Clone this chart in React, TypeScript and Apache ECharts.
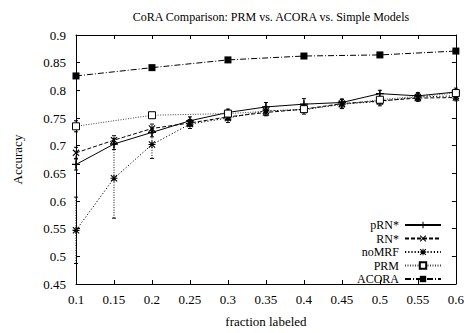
import React, { useEffect, useRef } from "react";
import * as echarts from "echarts";

const fracFine = [0.1, 0.15, 0.2, 0.25, 0.3, 0.35, 0.4, 0.45, 0.5, 0.55, 0.6];
const fracCoarse = [0.1, 0.2, 0.3, 0.4, 0.5, 0.6];

const pRN = [0.666, 0.703, 0.724, 0.745, 0.760, 0.770, 0.775, 0.778, 0.794, 0.790, 0.797];
const pRNErr = [0.010, 0.010, 0.008, 0.007, 0.006, 0.008, 0.010, 0.006, 0.006, 0.006, 0.007];
const RN = [0.687, 0.710, 0.731, 0.741, 0.752, 0.760, 0.766, 0.776, 0.781, 0.786, 0.787];
const RNErr = [0.010, 0.008, 0.008, 0.006, 0.006, 0.006, 0.006, 0.008, 0.006, 0.006, 0.006];
const noMRF = [0.547, 0.641, 0.702, 0.739, 0.750, 0.763, 0.765, 0.775, 0.780, 0.788, 0.790];
const noMRFErr = [0.060, 0.072, 0.025, 0.008, 0.008, 0.008, 0.008, 0.008, 0.008, 0.006, 0.006];
const PRM = [0.735, 0.755, 0.758, 0.766, 0.783, 0.795];
const PRMErr = [0.010, 0.005, 0.006, 0.006, 0.005, 0.006];
const ACORA = [0.826, 0.841, 0.855, 0.862, 0.864, 0.871];
const ACORAErr = [0.003, 0.003, 0.004, 0.004, 0.004, 0.003];

const titleText = "CoRA Comparison: PRM vs. ACORA vs. Simple Models";
const xName = "fraction labeled";
const yName = "Accuracy";

const PLUS = "path://M4.2,0H5.8V4.2H10V5.8H5.8V10H4.2V5.8H0V4.2H4.2Z";
const CROSS = "path://M0,1.1L1.1,0L10,8.9L8.9,10Z M8.9,0L10,1.1L1.1,10L0,8.9Z";
const STAR =
  "path://M4.2,0H5.8V4.2H10V5.8H5.8V10H4.2V5.8H0V4.2H4.2Z M0,1.1L1.1,0L10,8.9L8.9,10Z M8.9,0L10,1.1L1.1,10L0,8.9Z";

const FONT = "Liberation Serif";

export default function App() {
  const ref = useRef<HTMLDivElement>(null);

  useEffect(() => {
    if (!ref.current) return;
    const chart = echarts.init(ref.current, null, { renderer: "svg" });

    const mk = (xs: number[], ys: number[]) => xs.map((x, i) => [x, ys[i]]);
    const mkErr = (xs: number[], ys: number[], es: number[]) =>
      xs.map((x, i) => [x, ys[i] - es[i], ys[i] + es[i]]);

    const errSeries = (data: number[][], dash: number[] | null) => ({
      type: "custom",
      silent: true,
      xAxisIndex: 0,
      yAxisIndex: 0,
      data,
      encode: { x: 0, y: [1, 2] },
      z: 1,
      renderItem: (params: any, api: any) => {
        const x = api.value(0);
        const lo = api.coord([x, api.value(1)]);
        const hi = api.coord([x, api.value(2)]);
        const style: any = { stroke: "#000", lineWidth: 1 };
        if (dash) style.lineDash = dash;
        const capStyle = { stroke: "#000", lineWidth: 1 };
        return {
          type: "group",
          children: [
            { type: "line", shape: { x1: lo[0], y1: lo[1], x2: hi[0], y2: hi[1] }, style },
            { type: "line", shape: { x1: lo[0] - 2, y1: lo[1], x2: lo[0] + 2, y2: lo[1] }, style: capStyle },
            { type: "line", shape: { x1: hi[0] - 2, y1: hi[1], x2: hi[0] + 2, y2: hi[1] }, style: capStyle },
          ],
        };
      },
    });

    const lineSeries = (
      name: string,
      data: number[][],
      dash: any,
      symbol: string,
      size: number,
      fill: string,
      color: string
    ) => ({
      name,
      type: "line",
      data,
      symbol,
      symbolSize: size,
      showSymbol: true,
      z: 3,
      lineStyle: { color, width: 1, type: dash },
      itemStyle: { color: fill, borderColor: "#000", borderWidth: fill === "#fff" ? 1 : 0 },
      emphasis: { disabled: true },
    });

    const option: any = {
      animation: false,
      backgroundColor: "#fff",
      title: {
        text: titleText,
        left: 266,
        top: 6,
        textAlign: "center",
        textStyle: { fontFamily: FONT, fontSize: 12, fontWeight: "normal", color: "#000" },
      },
      grid: { left: 76, right: 10, top: 35, bottom: 43 },
      legend: {
        orient: "vertical",
        right: 25,
        top: 219,
        padding: 0,
        align: "right",
        itemWidth: 36,
        itemHeight: 8,
        itemGap: 1.5,
        selectedMode: false,
        textStyle: { fontFamily: FONT, fontSize: 12, color: "#000", padding: [0, 1, 0, 0] },
        data: ["pRN*", "RN*", "noMRF", "PRM", "ACORA"],
      },
      xAxis: [
        {
          type: "value",
          min: 0.1,
          max: 0.6,
          interval: 0.05,
          name: xName,
          nameLocation: "middle",
          nameGap: 31,
          nameTextStyle: { fontFamily: FONT, fontSize: 13, color: "#000" },
          axisLine: { show: true, lineStyle: { color: "#000", width: 1 } },
          axisTick: { show: true, inside: true, length: 4, lineStyle: { color: "#000" } },
          axisLabel: {
            fontFamily: FONT,
            fontSize: 13,
            color: "#000",
            margin: 9,
            formatter: (v: number) => String(+v.toFixed(2)),
          },
          splitLine: { show: false },
        },
        {
          type: "value",
          position: "top",
          min: 0.1,
          max: 0.6,
          interval: 0.05,
          axisLine: { show: true, onZero: false, lineStyle: { color: "#000", width: 1 } },
          axisTick: { show: true, inside: true, length: 4, lineStyle: { color: "#000" } },
          axisLabel: { show: false },
          splitLine: { show: false },
        },
      ],
      yAxis: [
        {
          type: "value",
          min: 0.45,
          max: 0.9,
          interval: 0.05,
          name: yName,
          nameLocation: "middle",
          nameGap: 52,
          nameRotate: 90,
          nameTextStyle: { fontFamily: FONT, fontSize: 13, color: "#000" },
          axisLine: { show: true, lineStyle: { color: "#000", width: 1 } },
          axisTick: { show: true, inside: true, length: 4, lineStyle: { color: "#000" } },
          axisLabel: {
            fontFamily: FONT,
            fontSize: 13,
            color: "#000",
            margin: 10,
            formatter: (v: number) => String(+v.toFixed(2)),
          },
          splitLine: { show: false },
        },
        {
          type: "value",
          position: "right",
          min: 0.45,
          max: 0.9,
          interval: 0.05,
          axisLine: { show: true, onZero: false, lineStyle: { color: "#000", width: 1 } },
          axisTick: { show: true, inside: true, length: 4, lineStyle: { color: "#000" } },
          axisLabel: { show: false },
          splitLine: { show: false },
        },
      ],
      series: [
        lineSeries("pRN*", mk(fracFine, pRN), "solid", PLUS, 8, "#000", "#000"),
        lineSeries("RN*", mk(fracFine, RN), [4, 2], CROSS, 7, "#000", "#000"),
        lineSeries("noMRF", mk(fracFine, noMRF), [1.2, 2], STAR, 7, "#000", "#000"),
        lineSeries("PRM", mk(fracCoarse, PRM), [1, 1.5], "rect", 7, "#fff", "#444"),
        lineSeries("ACORA", mk(fracCoarse, ACORA), [6, 2, 1, 2], "rect", 7, "#000", "#000"),
        errSeries(mkErr(fracFine, pRN, pRNErr), null),
        errSeries(mkErr(fracFine, RN, RNErr), [3, 2]),
        errSeries(mkErr(fracFine, noMRF, noMRFErr), [1, 1.5]),
        errSeries(mkErr(fracCoarse, PRM, PRMErr), [1, 1.5]),
        errSeries(mkErr(fracCoarse, ACORA, ACORAErr), null),
      ],
    };

    chart.setOption(option);
    return () => chart.dispose();
  }, []);

  return (
    <div
      ref={ref}
      style={{ position: "absolute", left: 0, top: 0, width: 467, height: 333 }}
    />
  );
}
